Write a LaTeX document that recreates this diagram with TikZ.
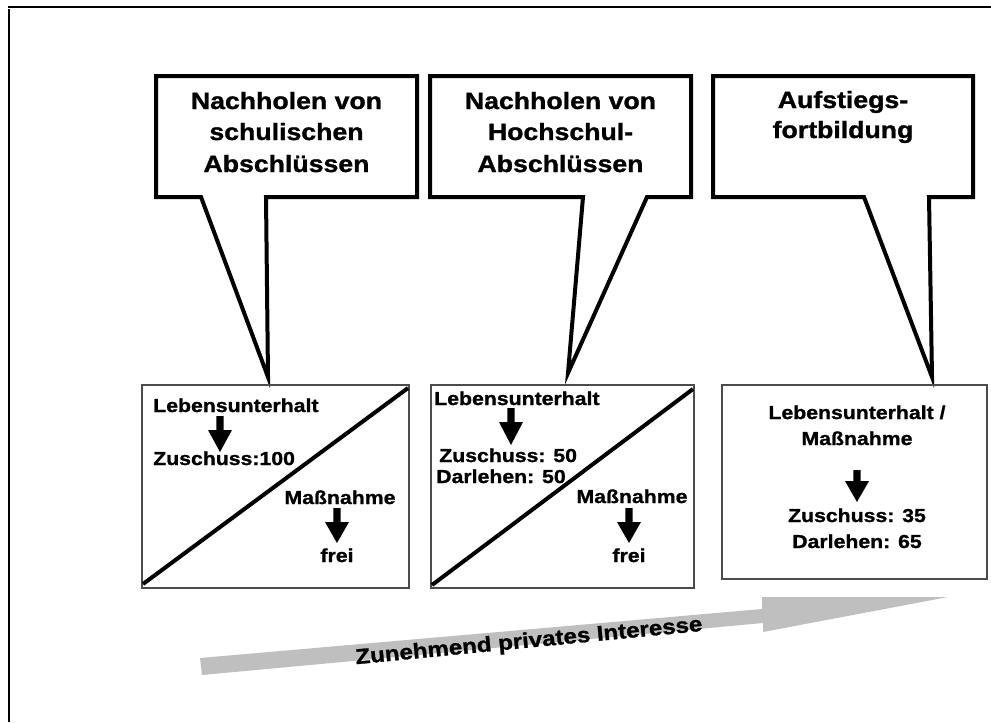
\documentclass[tikz,border=0pt]{standalone}
\usepackage{fontspec}
\setmainfont{Liberation Sans}[FakeStretch=1.13, BoldFeatures={FakeBold=1.2}]
\newcommand{\mydnarrow}[4]{%
  \fill (#1-3.7,#2) -- (#1+3.7,#2) -- (#1+3.7,#3) -- (#1+12,#3) -- (#1,#4) -- (#1-12,#3) -- (#1-3.7,#3) -- cycle;}
\begin{document}
\begin{tikzpicture}[x=0.75pt,y=-0.75pt,
  callout/.style={draw=black,line width=3pt,fill=white,line join=miter},
  box/.style={draw=black!70,line width=0.9pt},
  diag/.style={line width=3pt},
  htxt/.style={font=\fontsize{17.7}{21}\selectfont\bfseries,inner sep=0pt,anchor=base},
  btxt/.style={font=\fontsize{14.1}{16}\selectfont\bfseries,inner sep=0pt},
  frame/.style={line width=1.1pt},
  band/.style={fill=black!25,draw=none}]
\useasboundingbox (0,0) rectangle (991,722);
% frame
\draw[frame] (8,7) -- (991,7);
\draw[frame] (9,9) -- (9,722);
% callouts
\draw[callout] (156,76) -- (417,76) -- (417,197) -- (266,197) -- (268,377) -- (201,197) -- (156,197) -- cycle;
\draw[callout] (430,76) -- (691,76) -- (691,197) -- (647,197) -- (568,373) -- (583,197) -- (430,197) -- cycle;
\draw[callout] (713,76) -- (973,76) -- (973,197) -- (929,197) -- (932,377) -- (864,197) -- (713,197) -- cycle;
\node[htxt] (c1a) at (286.5,109) {Nachholen von};
\node[htxt] (c1b) at (286.5,140) {schulischen};
\node[htxt] (c1c) at (286.5,172) {Abschlüssen};
\node[htxt] (c2a) at (560.5,109) {Nachholen von};
\node[htxt] (c2b) at (560.5,140) {Hochschul-};
\node[htxt] (c2c) at (560.5,172) {Abschlüssen};
\node[htxt] (c3a) at (843,108) {Aufstiegs-};
\node[htxt] (c3b) at (843,138) {fortbildung};
% boxes
\draw[box] (142,385) rectangle (409,588);
\draw[box] (431,385) rectangle (694,588);
\draw[box] (722,385) rectangle (987,579);
\draw[diag] (143,584) -- (408,388);
\draw[diag] (432,585) -- (693,389);
% box 1
\node[btxt,anchor=base west] (b1a) at (153,412) {Lebensunterhalt};
\mydnarrow{220}{416}{430}{452}
\node[btxt,anchor=base west] (b1b) at (153,465) {Zuschuss:100};
\node[btxt,anchor=base] (b1c) at (340,504) {Maßnahme};
\mydnarrow{337}{508}{522}{543}
\node[btxt,anchor=base] (b1d) at (337,562) {frei};
% box 2
\node[btxt,anchor=base west] (b2a) at (434,405) {Lebensunterhalt};
\mydnarrow{511}{408}{422}{445}
\node[btxt,anchor=base west] (b2b) at (439,462) {Zuschuss: 50};
\node[btxt,anchor=base west] (b2c) at (436,483) {Darlehen: 50};
\node[btxt,anchor=base] (b2d) at (632,503) {Maßnahme};
\mydnarrow{629}{508}{522}{543}
\node[btxt,anchor=base] (b2e) at (629,562) {frei};
% box 3
\node[btxt,anchor=base] (b3a) at (857,419) {Lebensunterhalt /};
\node[btxt,anchor=base] (b3b) at (857,445) {Maßnahme};
\mydnarrow{857}{470}{481}{502}
\node[btxt,anchor=base] (b3c) at (857,522) {Zuschuss: 35};
\node[btxt,anchor=base] (b3d) at (857,548) {Darlehen: 65};
% gray arrow
\fill[band] (200,658) -- (762,609) -- (762,597) -- (948,597) -- (763,632) -- (763,623) -- (202,675) -- cycle;
\node[font=\fontsize{16}{18}\selectfont\bfseries,inner sep=0pt,rotate=5.5] (arr) at (529,642) {Zunehmend privates Interesse};
\end{tikzpicture}
\end{document}
